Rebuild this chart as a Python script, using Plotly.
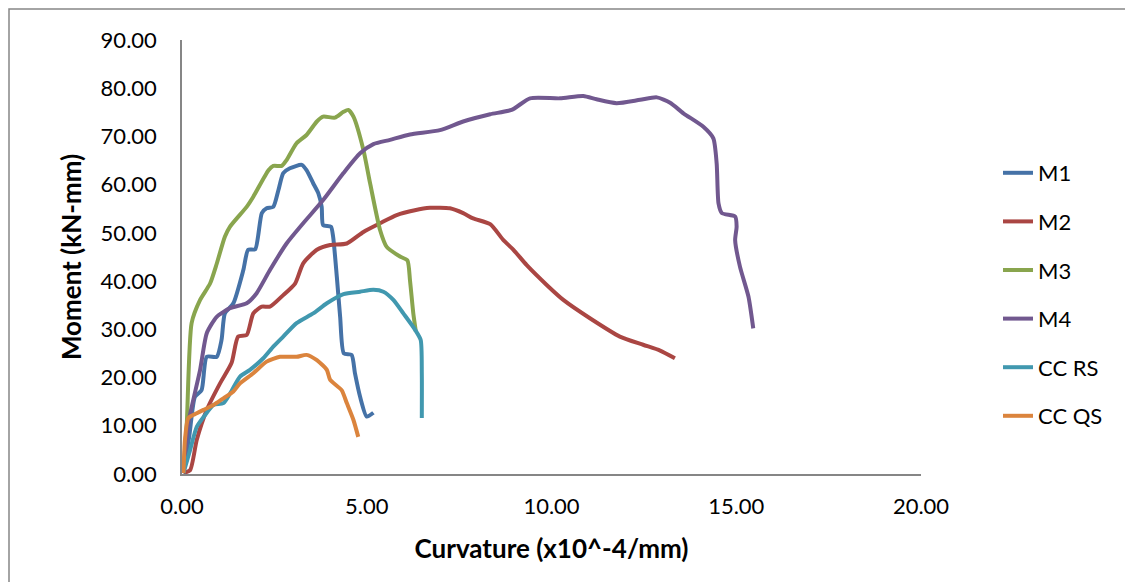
import plotly.graph_objects as go

# ---- data (curvature x10^-4/mm, moment kN-mm) ----
m1_x = [0.04, 0.20, 0.35, 0.53, 0.67, 0.94, 1.07, 1.16, 1.39, 1.66, 1.79, 1.98, 2.16, 2.29, 2.47, 2.61, 2.74, 2.92, 3.24, 3.37, 3.55, 3.69, 3.78, 3.82, 4.03, 4.09, 4.19, 4.28, 4.38, 4.59, 4.68, 4.82, 5.00, 5.18]
m1_y = [0.2, 8.0, 16.0, 17.4, 24.3, 24.3, 27.8, 33.3, 35.4, 42.3, 46.5, 46.6, 54.1, 55.1, 55.4, 58.9, 62.4, 63.4, 64.1, 63.0, 60.3, 58.2, 55.4, 51.6, 51.3, 49.2, 40.9, 32.6, 25.0, 24.7, 20.9, 16.0, 11.9, 12.7]

m2_x = [0.04, 0.22, 0.40, 0.67, 1.03, 1.34, 1.52, 1.75, 1.93, 2.16, 2.38, 2.74, 3.06, 3.28, 3.65, 4.01, 4.46, 4.91, 5.36, 5.81, 6.30, 6.71, 7.25, 7.61, 7.88, 8.34, 8.70, 8.97, 9.33, 9.87, 10.32, 11.04, 11.85, 12.48, 12.94, 13.34]
m2_y = [0.2, 0.8, 7.1, 13.3, 18.8, 23.0, 28.5, 28.8, 33.3, 34.7, 34.7, 37.1, 39.5, 43.7, 46.5, 47.5, 47.8, 50.2, 52.0, 53.7, 54.7, 55.2, 55.1, 54.1, 53.0, 51.8, 48.5, 46.5, 43.3, 39.2, 36.1, 32.3, 28.5, 26.8, 25.6, 24.0]

m3_x = [0.04, 0.13, 0.26, 0.49, 0.76, 0.94, 1.16, 1.30, 1.75, 1.93, 2.34, 2.47, 2.70, 2.83, 3.10, 3.37, 3.65, 3.82, 4.14, 4.37, 4.50, 4.64, 4.91, 5.09, 5.36, 5.54, 5.90, 6.10, 6.17, 6.26, 6.33]
m3_y = [0.2, 10.5, 31.3, 36.1, 39.5, 43.6, 49.2, 51.3, 55.4, 57.5, 63.0, 63.9, 63.9, 65.1, 68.6, 70.3, 73.1, 74.1, 73.9, 75.1, 75.5, 74.1, 67.2, 60.3, 50.6, 47.1, 45.1, 44.3, 40.2, 33.3, 29.5]

m4_x = [0.04, 0.17, 0.49, 0.67, 0.94, 1.30, 1.75, 2.02, 2.38, 2.83, 3.28, 3.82, 4.37, 4.82, 5.18, 5.63, 6.17, 6.98, 7.61, 8.34, 8.92, 9.42, 10.23, 10.86, 11.22, 11.76, 12.40, 12.85, 13.21, 13.57, 14.11, 14.38, 14.47, 14.52, 14.61, 14.97, 15.01, 14.97, 15.10, 15.33, 15.46]
m4_y = [0.2, 10.5, 21.6, 29.2, 32.6, 34.4, 35.4, 37.5, 42.3, 47.8, 52.0, 56.8, 62.4, 66.5, 68.4, 69.3, 70.4, 71.3, 73.1, 74.6, 75.5, 77.9, 77.9, 78.4, 77.7, 76.9, 77.6, 78.1, 77.0, 74.8, 72.0, 69.6, 64.4, 56.1, 54.1, 53.4, 51.3, 48.5, 43.0, 36.8, 30.2]

ccrs_x = [0.04, 0.22, 0.40, 0.62, 0.85, 1.12, 1.30, 1.57, 1.84, 2.20, 2.47, 2.74, 3.10, 3.55, 3.92, 4.37, 4.82, 5.18, 5.45, 5.72, 5.99, 6.31, 6.46, 6.49, 6.49]
ccrs_y = [0.2, 5.0, 9.8, 12.2, 14.3, 14.7, 16.7, 20.2, 21.6, 24.0, 26.4, 28.5, 31.3, 33.3, 35.4, 37.3, 37.8, 38.2, 37.8, 36.1, 33.3, 29.9, 27.8, 20.9, 11.6]

ccqs_x = [0.04, 0.08, 0.17, 0.40, 0.58, 0.85, 1.12, 1.39, 1.57, 1.93, 2.29, 2.65, 3.10, 3.37, 3.65, 3.92, 4.01, 4.32, 4.46, 4.64, 4.77]
ccqs_y = [0.2, 7.1, 11.6, 12.6, 13.3, 14.3, 15.7, 17.1, 18.8, 20.9, 23.3, 24.3, 24.3, 24.7, 23.6, 21.6, 19.5, 17.4, 14.7, 11.2, 7.7]

names = ["M1", "M2", "M3", "M4", "CC RS", "CC QS"]
colors = ["#4572A7", "#AA4643", "#89A54E", "#71588F", "#4198AF", "#DB843D"]
xs = [m1_x, m2_x, m3_x, m4_x, ccrs_x, ccqs_x]
ys = [m1_y, m2_y, m3_y, m4_y, ccrs_y, ccqs_y]

x_ticks = [0, 5, 10, 15, 20]
y_ticks = [0, 10, 20, 30, 40, 50, 60, 70, 80, 90]

FONT = "Lato, 'Open Sans', sans-serif"

fig = go.Figure()
for n, c, x, y in zip(names, colors, xs, ys):
    fig.add_trace(go.Scatter(
        x=x, y=y, name=n, mode="lines", legendgroup=n,
        line=dict(color=c, width=4, shape="spline", smoothing=0.6),
    ))

# page body has an 8px margin; figure is sized so the plot lands on the
# same screen pixels as the reference (plot area 182..921 x 40..474)
OFF = 8
W, H = 1133 - OFF, 582 - OFF
L, R, T, B = 182 - OFF, 212, 40 - OFF, 108
pw, ph = W - L - R, H - T - B

def px_x(p):  # screen px -> paper
    return (p - 182) / pw

def px_y(p):
    return (474 - p) / ph

fig.update_layout(
    width=W, height=H,
    margin=dict(l=L, r=R, t=T, b=B, autoexpand=False),
    paper_bgcolor="white", plot_bgcolor="white",
    font=dict(family=FONT, size=22, color="#000000"),
    showlegend=True,
    legend=dict(
        x=px_x(998), y=px_y(152), xanchor="left", yanchor="top",
        font=dict(family=FONT, size=22, color="#000000"),
        tracegroupgap=17, traceorder="grouped",
        bgcolor="rgba(0,0,0,0)",
    ),
    xaxis=dict(
        range=[0, 20], tickvals=x_ticks,
        ticktext=[f"{v:.2f}" for v in x_ticks],
        showgrid=False, zeroline=False,
        showline=True, linecolor="#868686", linewidth=1.5,
        ticks="", ticklabelstandoff=12,
        title=dict(text="<b>Curvature (x10^-4/mm)</b>", standoff=22,
                   font=dict(family=FONT, size=26)),
    ),
    yaxis=dict(
        range=[0, 90], tickvals=y_ticks,
        ticktext=[f"{v:.2f}" for v in y_ticks],
        showgrid=False, zeroline=False,
        showline=True, linecolor="#868686", linewidth=1.5,
        ticks="", ticklabelstandoff=19,
        title=dict(text="<b>Moment (kN-mm)</b>", standoff=12,
                   font=dict(family=FONT, size=26)),
    ),
    shapes=[dict(
        type="rect", xref="paper", yref="paper",
        x0=px_x(9), x1=px_x(1145), y0=px_y(600), y1=px_y(9),
        line=dict(color="#868686", width=1.5), fillcolor="rgba(0,0,0,0)",
        layer="below",
    )],
)

fig.write_html("out.html")
